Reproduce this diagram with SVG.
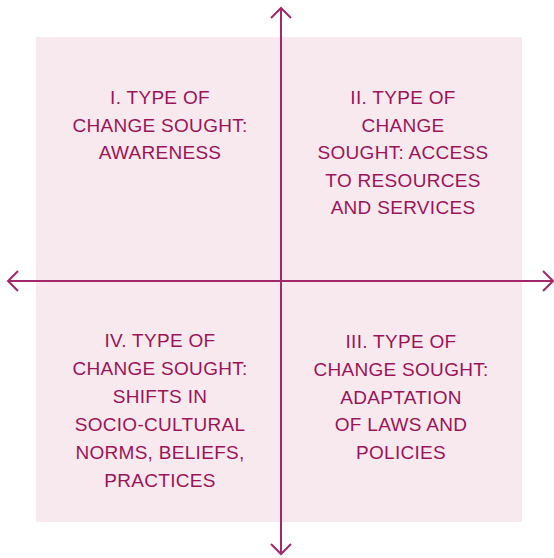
<svg xmlns="http://www.w3.org/2000/svg" width="554" height="558" viewBox="0 0 554 558">
<style>
.bg{fill:#f7e9ee}
.ax{stroke:#a3286a;stroke-width:2;fill:none}
.t{font-family:"Liberation Sans",Arial,sans-serif;font-size:19px;fill:#9b1458;text-anchor:middle;letter-spacing:0.3px}
</style>
<rect class="bg" x="36" y="37" width="486" height="485"/>
<g id="connectors">
<line class="ax" x1="281" y1="8" x2="281" y2="554"/>
<line class="ax" x1="8" y1="281" x2="553" y2="281"/>
<polyline class="ax" points="271,18 281,8 291,18"/>
<polyline class="ax" points="271,544 281,554 291,544"/>
<polyline class="ax" points="18,271 8,281 18,291"/>
<polyline class="ax" points="543,271 553,281 543,291"/>
</g>
<g id="q1">
<text class="t" x="160" y="104">I. TYPE OF</text>
<text class="t" x="160" y="131.5">CHANGE SOUGHT:</text>
<text class="t" x="160" y="159">AWARENESS</text>
</g>
<g id="q2">
<text class="t" x="403" y="104">II. TYPE OF</text>
<text class="t" x="403" y="131.5">CHANGE</text>
<text class="t" x="403" y="159">SOUGHT: ACCESS</text>
<text class="t" x="403" y="186.5">TO RESOURCES</text>
<text class="t" x="403" y="214">AND SERVICES</text>
</g>
<g id="q3">
<text class="t" x="401" y="348">III. TYPE OF</text>
<text class="t" x="401" y="376">CHANGE SOUGHT:</text>
<text class="t" x="401" y="403.5">ADAPTATION</text>
<text class="t" x="401" y="431">OF LAWS AND</text>
<text class="t" x="401" y="459">POLICIES</text>
</g>
<g id="q4">
<text class="t" x="160" y="347">IV. TYPE OF</text>
<text class="t" x="160" y="375">CHANGE SOUGHT:</text>
<text class="t" x="160" y="403">SHIFTS IN</text>
<text class="t" x="160" y="431">SOCIO-CULTURAL</text>
<text class="t" x="160" y="459">NORMS, BELIEFS,</text>
<text class="t" x="160" y="487">PRACTICES</text>
</g>
</svg>
